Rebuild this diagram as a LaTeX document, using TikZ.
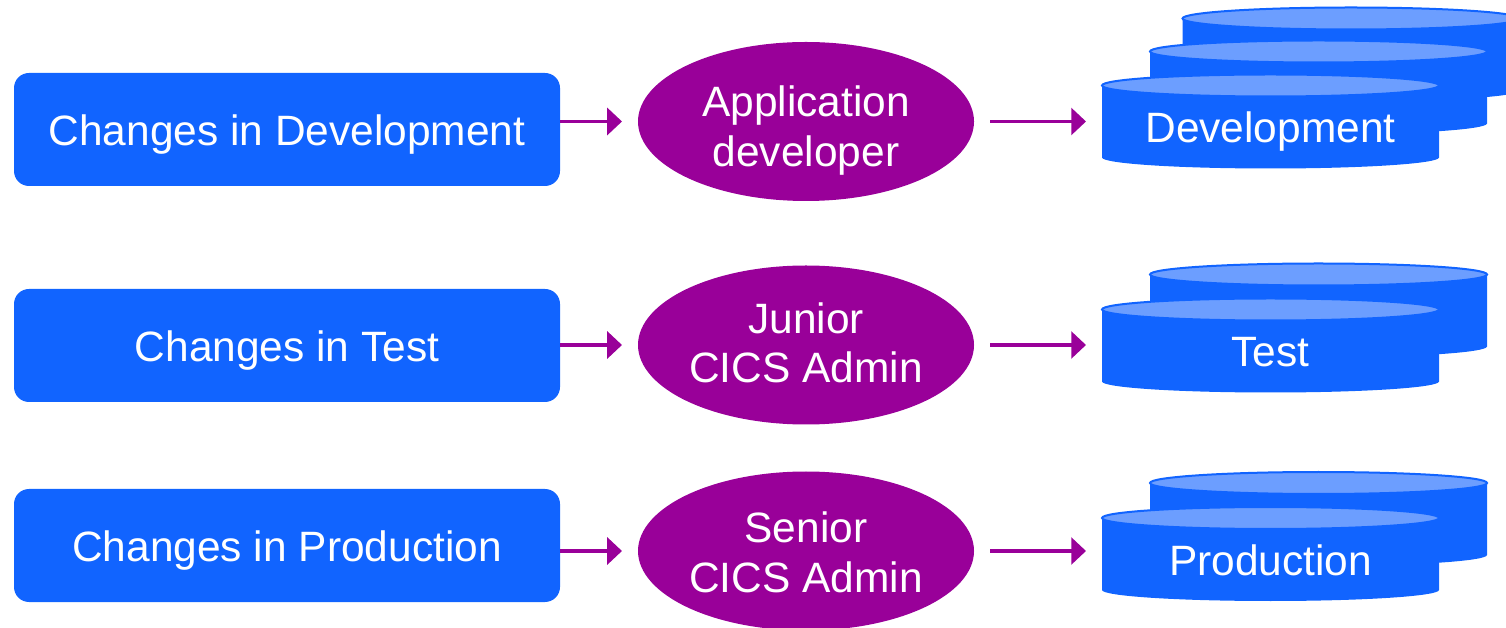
\documentclass[tikz,border=0pt]{standalone}
\usepackage{fontspec}
\setmainfont{Liberation Sans}
\usetikzlibrary{shapes.geometric,arrows.meta}
\definecolor{boxblue}{HTML}{1164FF}
\definecolor{dblight}{HTML}{6C9EFF}
\definecolor{rolepurple}{HTML}{990099}
\tikzset{
    chgbox/.style={rectangle, rounded corners=0.375cm, fill=boxblue, text=white, inner sep=0pt, outer sep=0pt,
        minimum width=13.65cm, minimum height=2.825cm, text height=0.8cm, text depth=0pt,
        font=\fontsize{30.2}{35.5}\selectfont},
    rolebox/.style={ellipse, fill=rolepurple, text=white, align=center, inner sep=0pt, outer sep=0pt,
        minimum width=8.4cm, minimum height=3.975cm, text height=2.25cm, text depth=0pt,
        font=\fontsize{30.2}{35.5}\selectfont},
    dbtext/.style={rectangle, text=white, inner sep=0pt, outer sep=0pt, minimum width=8.425cm,
        text height=1.05cm, text depth=0pt, font=\fontsize{30.2}{35.5}\selectfont},
    flow/.style={-{Triangle[length=10.5pt,width=19pt]}, line width=2.6pt, draw=rolepurple, shorten >=0.4cm}
}
% one disk of a stack, #1 = centre of its body
\newcommand{\dbdisk}[1]{%
    \begin{scope}[shift={#1}]
        \fill[boxblue] (-4.2125,0.9) -- (-4.2125,-0.9) arc[start angle=180, end angle=360, x radius=4.2125, y radius=0.275]
            -- (4.2125,0.9) arc[start angle=0, end angle=180, x radius=4.2125, y radius=0.275] -- cycle;
        \filldraw[fill=dblight, draw=boxblue, line width=0.05cm] (0,0.9) ellipse[x radius=4.2125, y radius=0.275];
    \end{scope}}
\begin{document}
\begin{tikzpicture}
        \useasboundingbox (0,0) rectangle (37.65,15.675);
        % stacks
        \dbdisk{(33.775,14.3125)}
        \dbdisk{(32.9625,13.4875)}
        \dbdisk{(31.7625,12.6375)}
        \dbdisk{(32.9625,7.9125)}
        \dbdisk{(31.7625,7.0375)}
        \dbdisk{(32.9625,2.7)}
        \dbdisk{(31.7625,1.825)}
        \node[dbtext] (devdb) at (31.7625,12.6375) {Development};
        \node[dbtext] (testdb) at (31.7625,7.0375) {Test};
        \node[dbtext] (proddb) at (31.7625,1.825) {Production};
        % changes
        \node[chgbox] (devchg) at (7.175,12.4375) {Changes in Development};
        \node[chgbox] (testchg) at (7.175,7.0375) {Changes in Test};
        \node[chgbox] (prodchg) at (7.175,2.0375) {Changes in Production};
        % roles
        \node[rolebox] (devrole) at (20.15,12.6375) {Application\\developer};
        \node[rolebox, text height=1.9cm] (testrole) at (20.15,7.05) {Junior\\CICS Admin};
        \node[rolebox, text height=2.05cm] (prodrole) at (20.15,1.9) {Senior\\CICS Admin};
        \draw[flow] (devchg.east |- devrole.west) -- (devrole.west);
        \draw[flow] (testchg.east |- testrole.west) -- (testrole.west);
        \draw[flow] (prodchg.east |- prodrole.west) -- (prodrole.west);
        \draw[flow, shorten <=0.4cm] (devrole.east) -- (devrole.east -| devdb.west);
        \draw[flow, shorten <=0.4cm] (testrole.east) -- (testrole.east -| testdb.west);
        \draw[flow, shorten <=0.4cm] (prodrole.east) -- (prodrole.east -| proddb.west);
    \end{tikzpicture}
\end{document}
